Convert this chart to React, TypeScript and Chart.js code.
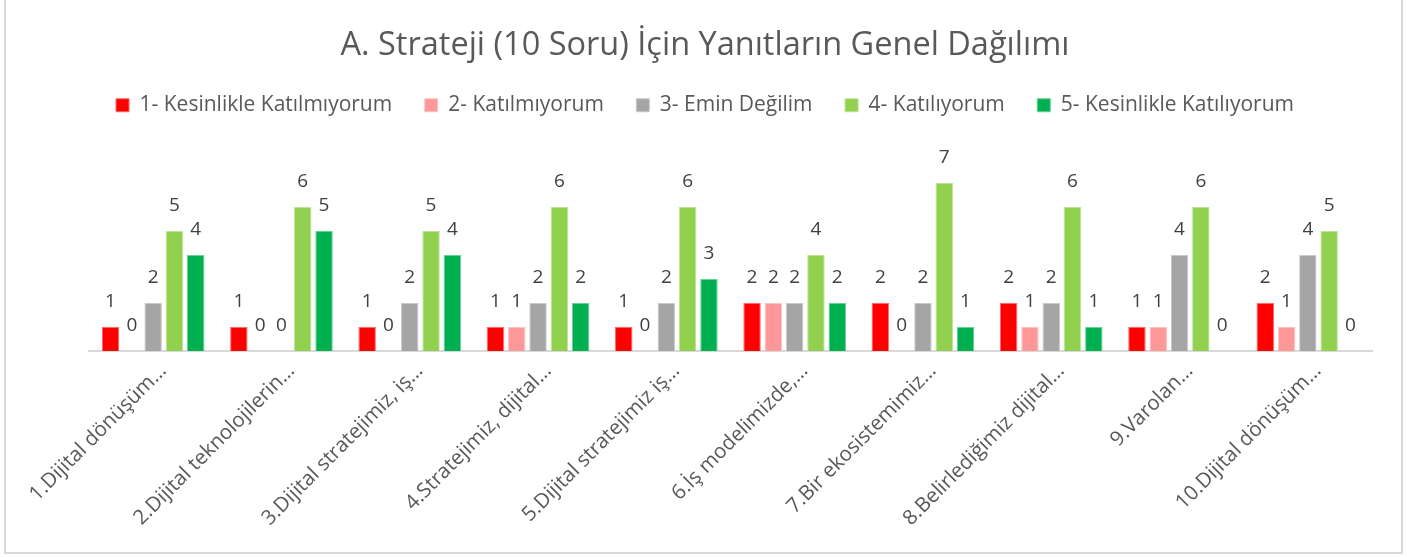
import React, { useEffect, useRef } from 'react';
import { Chart, registerables } from 'chart.js';

Chart.register(...registerables);

const chartTitle = 'A. Strateji (10 Soru) İçin Yanıtların Genel Dağılımı';

const categories = [
  '1.Dijital dönüşüm…',
  '2.Dijital teknolojilerin…',
  '3.Dijital stratejimiz, iş…',
  '4.Stratejimiz, dijital…',
  '5.Dijital stratejimiz iş…',
  '6.İş modelimizde,…',
  '7.Bir ekosistemimiz…',
  '8.Belirlediğimiz dijital…',
  '9.Varolan…',
  '10.Dijital dönüşüm…',
];

const seriesNames = [
  '1- Kesinlikle Katılmıyorum',
  '2- Katılmıyorum',
  '3- Emin Değilim',
  '4- Katılıyorum',
  '5- Kesinlikle Katılıyorum',
];

const kesinlikleKatilmiyorum = [1, 1, 1, 1, 1, 2, 2, 2, 1, 2];
const katilmiyorum = [0, 0, 0, 1, 0, 2, 0, 1, 1, 1];
const eminDegilim = [2, 0, 2, 2, 2, 2, 2, 2, 4, 4];
const katiliyorum = [5, 6, 5, 6, 6, 4, 7, 6, 6, 5];
const kesinlikleKatiliyorum = [4, 5, 4, 2, 3, 2, 1, 1, 0, 0];

const seriesValues = [
  kesinlikleKatilmiyorum,
  katilmiyorum,
  eminDegilim,
  katiliyorum,
  kesinlikleKatiliyorum,
];

const seriesColors = ['#FF0000', '#FF9999', '#A5A5A5', '#92D050', '#00B050'];
const seriesBorders = ['#FF6666', '#FFC2C2', '#C9C9C9', '#BEE396', '#66D096'];

const FONT = '"Open Sans"';

const dataLabelPlugin = {
  id: 'dataLabelPlugin',
  afterDatasetsDraw(chart: any) {
    const ctx = chart.ctx;
    ctx.save();
    ctx.font = `19px ${FONT}`;
    ctx.fillStyle = '#404040';
    ctx.textAlign = 'center';
    ctx.textBaseline = 'middle';
    chart.data.datasets.forEach((ds: any, i: number) => {
      const meta = chart.getDatasetMeta(i);
      meta.data.forEach((el: any, j: number) => {
        ctx.fillText(String(ds.data[j]), el.x, el.y - 25);
      });
    });
    ctx.restore();
  },
};

export default function App() {
  const canvasRef = useRef<HTMLCanvasElement | null>(null);

  useEffect(() => {
    let chart: Chart | null = null;
    let cancelled = false;
    const make = () => {
      if (cancelled || !canvasRef.current) return;
      chart = new Chart(canvasRef.current, {
        type: 'bar',
        data: {
          labels: categories,
          datasets: seriesNames.map((name, i) => ({
            label: name,
            data: seriesValues[i],
            backgroundColor: seriesColors[i],
            borderColor: seriesBorders[i],
            borderWidth: 1,
            barPercentage: 0.82,
            categoryPercentage: 0.83,
          })),
        },
        options: {
          responsive: false,
          animation: false,
          events: [],
          layout: { padding: { left: 0, right: 0, top: 0, bottom: 0 } },
          plugins: {
            title: {
              display: true,
              text: chartTitle,
              color: '#595959',
              font: { family: FONT, size: 32.5, weight: 'normal', lineHeight: 1 },
              padding: { top: 29.75, bottom: 0 },
            },
            legend: {
              display: true,
              position: 'top',
              labels: {
                boxWidth: 13,
                boxHeight: 13,
                padding: 32.5,
                color: '#595959',
                font: { family: FONT, size: 21 },
              },
            },
            subtitle: {
              display: true,
              text: '',
              weight: 500,
              padding: { top: 0, bottom: 32 },
              font: { size: 1, lineHeight: 1 },
            },
            tooltip: { enabled: false },
          },
          scales: {
            x: {
              grid: { display: false, drawTicks: false },
              border: { display: true, color: '#D9D9D9', width: 2 },
              ticks: {
                autoSkip: false,
                maxRotation: 45,
                minRotation: 45,
                padding: 8,
                labelOffset: 10,
                color: '#595959',
                font: { family: FONT, size: 20.5 },
              },
              afterFit: (scale: any) => {
                scale.height = 206;
              },
            },
            y: {
              display: true,
              min: 0,
              max: 8,
              grid: { display: false, drawTicks: false },
              border: { display: false },
              ticks: { display: false },
              afterFit: (scale: any) => {
                scale.width = 89;
              },
            },
            y2: {
              display: true,
              position: 'right',
              min: 0,
              max: 8,
              grid: { display: false, drawTicks: false },
              border: { display: false },
              ticks: { display: false },
              afterFit: (scale: any) => {
                scale.width = 38;
              },
            },
          },
        },
        plugins: [dataLabelPlugin],
      } as any);
    };
    const fontsReady = (document as any).fonts
      ? Promise.all([
          (document as any).fonts.load(`32px ${FONT}`),
          (document as any).fonts.load(`21px ${FONT}`),
        ]).catch(() => null)
      : Promise.resolve(null);
    fontsReady.then(make);
    return () => {
      cancelled = true;
      if (chart) chart.destroy();
    };
  }, []);

  return (
    <>
      <div
        style={{
          position: 'absolute',
          left: 4,
          top: -10,
          width: 1399,
          height: 564,
          border: '2px solid #D9D9D9',
          boxSizing: 'border-box',
          background: '#FFFFFF',
        }}
      />
      <canvas
        ref={canvasRef}
        width={1410}
        height={557}
        style={{ position: 'absolute', left: 0, top: 0, width: 1410, height: 557, display: 'block' }}
      />
    </>
  );
}
